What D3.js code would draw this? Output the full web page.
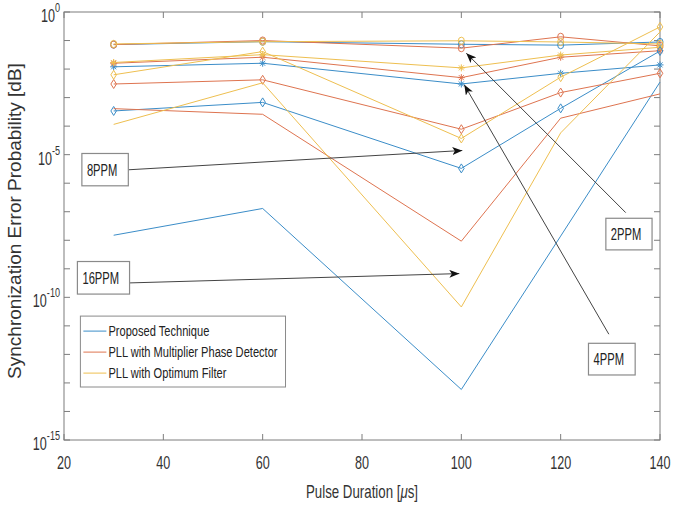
<!DOCTYPE html>
<html><head><meta charset="utf-8">
<script src="https://cdn.jsdelivr.net/npm/d3@7"></script>
<style>body{margin:0;background:#fff}</style>
</head><body><svg id="c" width="696" height="508"></svg>
<script>
// ---- data ----
const pulseDurations = [30, 60, 100, 120, 140];
const methods = ["Proposed Technique", "PLL with Multiplier Phase Detector", "PLL with Optimum Filter"];
const methodColors = ["#3b8dc8", "#de7450", "#eebf50"];
const ppmLevels = ["2PPM", "4PPM", "8PPM", "16PPM"];
const ppmMarkers = ["circle", "star", "diamond", "none"];

// Proposed Technique
const proposed2 = [7.2e-2, 9.1e-2, 7.4e-2, 6.9e-2, 8.9e-2];
const proposed4 = [1.2e-2, 1.6e-2, 3.0e-3, 7.1e-3, 1.4e-2];
const proposed8 = [3.4e-4, 6.8e-4, 3.3e-6, 4.2e-4, 4.3e-2];
const proposed16 = [1.5e-8, 1.3e-7, 5.9e-14, 1.4e-8, 3.5e-3];
// PLL with Multiplier Phase Detector
const multiplier2 = [7.2e-2, 1.0e-1, 5.4e-2, 1.35e-1, 6.5e-2];
const multiplier4 = [1.6e-2, 2.6e-2, 5.0e-3, 2.6e-2, 4.4e-2];
const multiplier8 = [3.0e-3, 4.2e-3, 7.8e-5, 1.5e-3, 7.1e-3];
const multiplier16 = [4.1e-4, 2.6e-4, 9.3e-9, 1.9e-4, 1.35e-3];
// PLL with Optimum Filter
const optimum2 = [7.6e-2, 9.1e-2, 9.8e-2, 8.9e-2, 7.6e-2];
const optimum4 = [1.7e-2, 3.2e-2, 1.1e-2, 3.1e-2, 5.8e-2];
const optimum8 = [6.3e-3, 4.1e-2, 3.7e-5, 5.2e-3, 3.0e-1];
const optimum16 = [1.15e-4, 3.3e-3, 4.6e-11, 5.8e-5, 2.0e-1];

const xTicks = [20, 40, 60, 80, 100, 120, 140];
const yTickExps = [0, -1, -2, -3, -4, -5, -6, -7, -8, -9, -10, -11, -12, -13, -14, -15];
const yLabelExps = [0, -5, -10, -15];

// annotations: label, box corners [x0, y0, x1, y1] and arrow [from x, from y, to x, to y] in data units
const annotations = [
  {label: "8PPM",  box: [23.6, 1.1e-5, 32.95, 8.1e-7], arrow: [32.95, 2.95e-6, 100.2, 1.4e-5]},
  {label: "16PPM", box: [22.7, 1.8e-9, 33.2, 1.3e-10], arrow: [33.2, 3.2e-10, 99.6, 6.8e-10]},
  {label: "2PPM",  box: [129.1, 5.9e-8, 138.4, 4.6e-9], arrow: [133.1, 9.3e-8, 101.0, 3.6e-2]},
  {label: "4PPM",  box: [125.6, 2.45e-12, 135.0, 1.9e-13], arrow: [129.7, 5.1e-12, 100.6, 2.8e-3]}
];

const seriesTable = [
  [proposed2, multiplier2, optimum2],
  [proposed4, multiplier4, optimum4],
  [proposed8, multiplier8, optimum8],
  [proposed16, multiplier16, optimum16]
];

// ---- drawing ----
const svg = d3.select("#c");
const x = d3.scaleLinear().domain([20, 140]).range([64, 660]);
const y = d3.scaleLog().domain([1e-15, 1]).range([440, 12]);
const axisColor = "#7d7d7d";
const font = "'Liberation Sans',Arial,sans-serif";

function narrowText(parent, tx, ty, size, anchor, fill, sq) {
  return parent.append("text")
    .attr("transform", `translate(${tx},${ty}) scale(${sq || 0.8},1)`)
    .attr("text-anchor", anchor || "start")
    .attr("font-family", font).attr("font-size", size).attr("fill", fill || "#333");
}

svg.append("defs").append("marker")
  .attr("id", "ah").attr("viewBox", "0 0 10 8").attr("refX", 10).attr("refY", 4)
  .attr("markerWidth", 10).attr("markerHeight", 8).attr("markerUnits", "userSpaceOnUse")
  .attr("orient", "auto")
  .append("path").attr("d", "M0,0 L10,4 L0,8 L2.5,4 Z").attr("fill", "#111");

// axes frame
const [x0, x1] = x.range();
const [yb, yt] = y.range();
const g = svg.append("g");
g.append("rect").attr("x", x0).attr("y", yt).attr("width", x1 - x0).attr("height", yb - yt)
  .attr("fill", "none").attr("stroke", axisColor).attr("stroke-width", 1);

xTicks.forEach(t => {
  g.append("line").attr("x1", x(t)).attr("x2", x(t)).attr("y1", yb).attr("y2", yb - 6).attr("stroke", axisColor);
  g.append("line").attr("x1", x(t)).attr("x2", x(t)).attr("y1", yt).attr("y2", yt + 6).attr("stroke", axisColor);
  narrowText(g, x(t), yb + 29, 18, "middle", "#333", 0.7).text(t);
});
yTickExps.forEach(e => {
  const v = Math.pow(10, e);
  g.append("line").attr("x1", x0).attr("x2", x0 + 6).attr("y1", y(v)).attr("y2", y(v)).attr("stroke", axisColor);
  g.append("line").attr("x1", x1).attr("x2", x1 - 6).attr("y1", y(v)).attr("y2", y(v)).attr("stroke", axisColor);
});
yLabelExps.forEach(e => {
  const v = Math.pow(10, e);
  const tx = narrowText(g, x0 - 4, y(v) + 10, 18, "end", "#333", 0.7);
  tx.append("tspan").text("10");
  tx.append("tspan").attr("font-size", 13).attr("dy", -10).text(String(e));
});

// axis titles
narrowText(svg, (x0 + x1) / 2, 498, 19, "middle", "#333", 0.7)
  .html("Pulse Duration [<tspan font-style='italic'>μ</tspan>s]");
svg.append("text").attr("transform", `translate(21,${(yb + yt) / 2 - 5}) rotate(-90)`)
  .attr("text-anchor", "middle").attr("font-family", font)
  .attr("font-size", 19).attr("fill", "#333")
  .text("Synchronization Error Probability [dB]");

// series
const line = d3.line().x((d, i) => x(pulseDurations[i])).y(d => y(d));
const plot = svg.append("g");
seriesTable.forEach((group, pi) => {
  group.forEach((vals, mi) => {
    const col = methodColors[mi];
    plot.append("path").datum(vals).attr("d", line).attr("fill", "none")
      .attr("stroke", col).attr("stroke-width", 1);
    const mk = ppmMarkers[pi];
    vals.forEach((v, i) => {
      const cx = x(pulseDurations[i]), cy = y(v);
      if (mk === "circle") {
        plot.append("ellipse").attr("cx", cx).attr("cy", cy).attr("rx", 3).attr("ry", 3.6)
          .attr("fill", "none").attr("stroke", col).attr("stroke-width", 1);
      } else if (mk === "diamond") {
        plot.append("path").attr("d", `M${cx},${cy - 4.5}L${cx + 2.8},${cy}L${cx},${cy + 4.5}L${cx - 2.8},${cy}Z`)
          .attr("fill", "none").attr("stroke", col).attr("stroke-width", 1);
      } else if (mk === "star") {
        const s = 3.5, d = 2.5;
        plot.append("path").attr("d",
          `M${cx - s},${cy}L${cx + s},${cy}M${cx},${cy - s}L${cx},${cy + s}M${cx - d},${cy - d}L${cx + d},${cy + d}M${cx - d},${cy + d}L${cx + d},${cy - d}`)
          .attr("fill", "none").attr("stroke", col).attr("stroke-width", 1);
      }
    });
  });
});

// annotations
annotations.forEach(a => {
  const ag = svg.append("g");
  ag.append("line").attr("x1", x(a.arrow[0])).attr("y1", y(a.arrow[1]))
    .attr("x2", x(a.arrow[2])).attr("y2", y(a.arrow[3]))
    .attr("stroke", "#444").attr("stroke-width", 1).attr("marker-end", "url(#ah)");
  const bx = x(a.box[0]), by = y(a.box[1]), bw = x(a.box[2]) - bx, bh = y(a.box[3]) - by;
  ag.append("rect").attr("x", bx).attr("y", by).attr("width", bw).attr("height", bh)
    .attr("fill", "#fff").attr("stroke", "#8a8a8a").attr("stroke-width", 1.2);
  narrowText(ag, bx + 5, by + bh / 2 + 6, 16, "start", "#222", 0.7).text(a.label);
});

// legend
const lg = svg.append("g");
const lgX = x(23.3), lgY = y(2.2e-11);
const lgW = x(64.6) - lgX, lgH = y(7.2e-14) - lgY;
lg.append("rect").attr("x", lgX).attr("y", lgY).attr("width", lgW).attr("height", lgH)
  .attr("fill", "#fff").attr("stroke", "#8a8a8a").attr("stroke-width", 1);
methods.forEach((m, i) => {
  const ly = lgY + 15 + i * 21;
  lg.append("line").attr("x1", lgX + 3).attr("x2", lgX + 26).attr("y1", ly).attr("y2", ly)
    .attr("stroke", methodColors[i]).attr("stroke-width", 1);
  narrowText(lg, lgX + 28, ly + 5, 15, "start", "#222", 0.74).text(m);
});
</script></body></html>
